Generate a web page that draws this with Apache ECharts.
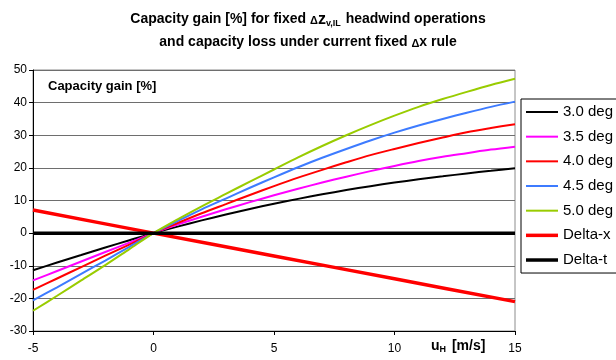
<!DOCTYPE html>
<html>
<head>
<meta charset="utf-8">
<script src="https://cdn.jsdelivr.net/npm/echarts@6/dist/echarts.min.js"></script>
<style>
  html, body { margin: 0; padding: 0; background: #fff; }
  #chart { width: 616px; height: 360px; }
</style>
</head>
<body>
<div id="chart"></div>
<script>
// Headwind speed u_H [m/s]
const windSpeeds = [-5, -4, -3, -2, -1, 0, 1, 2, 3, 4, 5, 6, 7, 8, 9, 10, 11, 12, 13, 14, 15];

// Capacity gain [%] per glide slope angle
const gain30 = [-11.4, -9.0, -6.7, -4.4, -2.2, 0, 2.0, 3.9, 5.7, 7.4, 9.0, 10.5, 11.9, 13.2, 14.4, 15.5, 16.5, 17.4, 18.3, 19.1, 19.9];
const gain35 = [-14.5, -11.6, -8.7, -5.8, -2.9, 0, 2.6, 5.0, 7.3, 9.5, 11.6, 13.6, 15.5, 17.3, 19.0, 20.6, 22.1, 23.4, 24.5, 25.6, 26.5];
const gain40 = [-17.4, -13.9, -10.4, -6.9, -3.5, 0, 3.1, 6.1, 8.9, 11.7, 14.4, 17.0, 19.4, 21.7, 23.9, 25.8, 27.6, 29.3, 30.9, 32.2, 33.4];
const gain45 = [-20.6, -16.6, -12.5, -8.4, -4.2, 0, 3.7, 7.3, 10.6, 13.9, 17.1, 20.2, 23.1, 25.8, 28.4, 30.8, 33.0, 35.0, 36.9, 38.7, 40.3];
const gain50 = [-23.8, -19.2, -14.5, -9.8, -4.9, 0, 4.2, 8.2, 12.0, 15.8, 19.5, 23.2, 26.7, 30.0, 33.1, 36.0, 38.7, 41.1, 43.3, 45.4, 47.3];

// Capacity loss under the fixed distance rule, and the fixed time reference
const deltaXSpeeds = [-5, 0, 5, 10, 15];
const deltaX = [7.1, 0, -7.0, -14.0, -21.0];
const deltaTSpeeds = [-5, 15];
const deltaT = [0, 0];

const seriesNames = ['3.0 deg', '3.5 deg', '4.0 deg', '4.5 deg', '5.0 deg', 'Delta-x', 'Delta-t'];

const xTicks = { min: -5, max: 15, step: 5 };
const yTicks = { min: -30, max: 50, step: 10 };

function pairs(xs, ys) {
  return xs.map((x, i) => [x, ys[i]]);
}

function lineSeries(name, xs, ys, color, width) {
  return {
    name: name,
    type: 'line',
    data: pairs(xs, ys),
    symbol: 'none',
    smooth: 0.3,
    lineStyle: { color: color, width: width },
    itemStyle: { color: color },
    animation: false
  };
}

// Legend key: a plain horizontal bar, thin for the angle curves, thick for the rules
const thinKey = 'path://M0,0 L32,0 L32,2 L0,2 Z';
const thickKey = 'path://M0,0 L32,0 L32,3.5 L0,3.5 Z';

const chart = echarts.init(document.getElementById('chart'), null, { renderer: 'canvas' });

const font = 'Arial, "Liberation Sans", sans-serif';

chart.setOption({
  backgroundColor: '#ffffff',
  animation: false,
  title: {
    left: 'center',
    top: 3,
    textStyle: {
      fontFamily: font,
      fontSize: 14,
      fontWeight: 'bold',
      lineHeight: 23,
      color: '#000',
      rich: {
        b: { fontFamily: font, fontSize: 14, fontWeight: 'bold', color: '#000', lineHeight: 23 },
        d: { fontFamily: font, fontSize: 11, fontWeight: 'bold', color: '#000', lineHeight: 23, padding: [3, 0, 0, 0] },
        z: { fontFamily: font, fontSize: 16, fontWeight: 'bold', color: '#000', lineHeight: 23 },
        sub: { fontFamily: font, fontSize: 9, fontWeight: 'bold', color: '#000', lineHeight: 23, padding: [9, 1, 0, 0] }
      }
    },
    text: '{b|Capacity gain [%] for fixed }{d|Δ}{z|z}{sub|v,IL}{b| headwind operations}\n{b|and capacity loss under current fixed }{d|Δ}{b|x rule}'
  },
  grid: {
    left: 33,
    right: 101,
    top: 70,
    bottom: 29,
    show: true,
    borderColor: '#8c8c8c',
    borderWidth: 1,
    backgroundColor: 'transparent'
  },
  legend: {
    orient: 'vertical',
    left: 521,
    top: 99,
    padding: [5, 40, 5, 5],
    itemWidth: 32,
    itemHeight: 16,
    itemGap: 8.67,
    symbolKeepAspect: true,
    borderColor: '#000',
    borderWidth: 1,
    backgroundColor: '#fff',
    textStyle: { fontFamily: font, fontSize: 15, lineHeight: 16, color: '#000' },
    data: seriesNames.map((name, i) => ({ name: name, icon: i < 5 ? thinKey : thickKey }))
  },
  xAxis: {
    type: 'value',
    min: xTicks.min,
    max: xTicks.max,
    interval: xTicks.step,
    axisLine: { show: true, onZero: false, lineStyle: { color: '#000', width: 1 } },
    axisTick: { show: true, length: 4, lineStyle: { color: '#000' } },
    axisLabel: { margin: 12, fontFamily: font, fontSize: 12, color: '#000' },
    splitLine: { show: false }
  },
  yAxis: {
    type: 'value',
    min: yTicks.min,
    max: yTicks.max,
    interval: yTicks.step,
    axisLine: { show: true, onZero: false, lineStyle: { color: '#000', width: 1 } },
    axisTick: { show: true, length: 4, lineStyle: { color: '#000' } },
    axisLabel: { margin: 6, fontFamily: font, fontSize: 12, color: '#000' },
    splitLine: { show: true, lineStyle: { color: '#6e6e6e', width: 1 } }
  },
  graphic: [
    {
      type: 'text',
      left: 48,
      top: 80,
      style: { text: 'Capacity gain [%]', font: 'bold 13px ' + font, fill: '#000' }
    },
    {
      type: 'text',
      left: 431,
      top: 339,
      style: {
        text: '{u|u}{h|H}{u| [m/s]}',
        rich: {
          u: { font: 'bold 14px ' + font, fill: '#000' },
          h: { font: 'bold 9px ' + font, fill: '#000', padding: [7, 2, 0, 0] }
        }
      }
    }
  ],
  series: [
    lineSeries('3.0 deg', windSpeeds, gain30, '#000000', 2),
    lineSeries('3.5 deg', windSpeeds, gain35, '#ff00ff', 2),
    lineSeries('4.0 deg', windSpeeds, gain40, '#ff0000', 2),
    lineSeries('4.5 deg', windSpeeds, gain45, '#3d7bff', 2),
    lineSeries('5.0 deg', windSpeeds, gain50, '#99cc00', 2),
    lineSeries('Delta-x', deltaXSpeeds, deltaX, '#ff0000', 3.5),
    lineSeries('Delta-t', deltaTSpeeds, deltaT, '#000000', 3.5)
  ]
});
</script>
</body>
</html>
